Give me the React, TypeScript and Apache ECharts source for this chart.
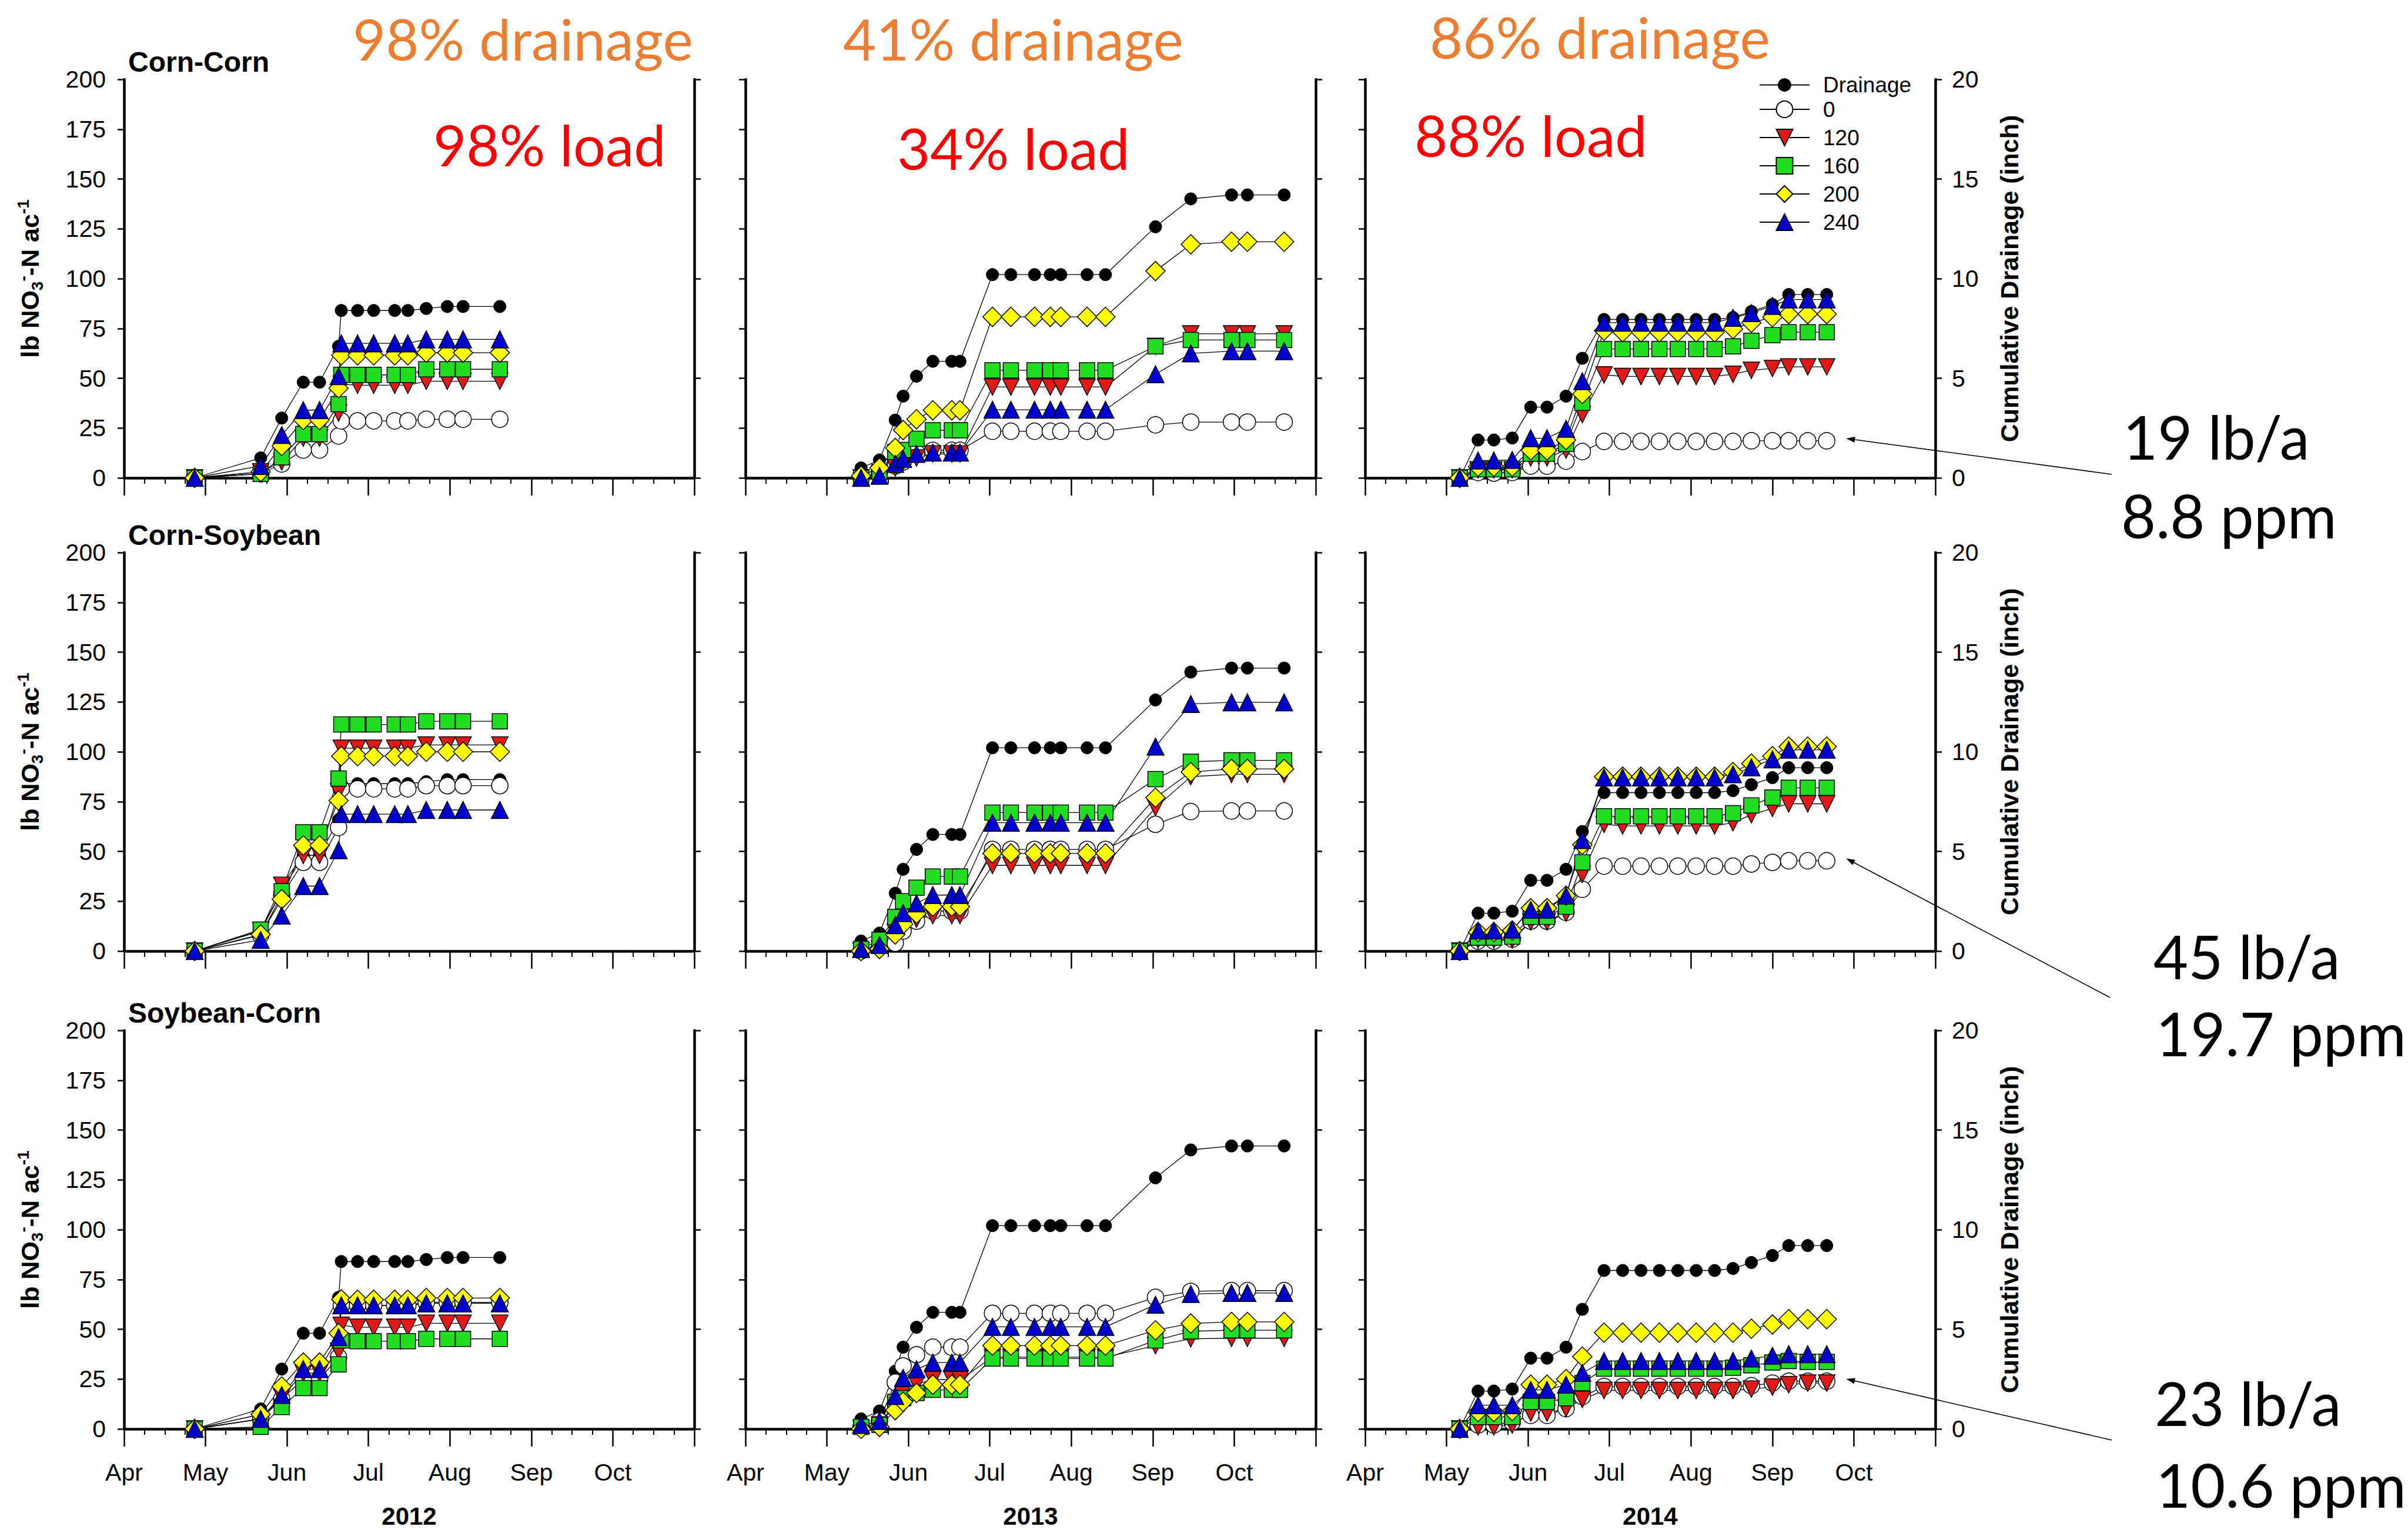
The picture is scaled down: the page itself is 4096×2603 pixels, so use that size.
import React, { useEffect, useRef } from 'react';
import * as echarts from 'echarts';

// ---------------- data ----------------
const monthLabels = ['Apr', 'May', 'Jun', 'Jul', 'Aug', 'Sep', 'Oct', ''];
const years = [2012, 2013, 2014];
const rotationNames = ['Corn-Corn', 'Corn-Soybean', 'Soybean-Corn'];
const drainageName = 'Drainage';
const rateNames = ['0', '120', '160', '200', '240'];

const dates2012 = ['04-27', '05-22', '05-30', '06-07', '06-13', '06-20', '06-21', '06-27', '07-03', '07-11', '07-16', '07-23', '07-31', '08-06', '08-20'];
const dates2013 = ['05-14', '05-21', '05-27', '05-30', '06-04', '06-10', '06-17', '06-20', '07-02', '07-09', '07-18', '07-24', '07-28', '08-07', '08-14', '09-02', '09-15', '09-30', '10-06', '10-20'];
const dates2014 = ['05-06', '05-13', '05-19', '05-26', '06-02', '06-08', '06-15', '06-21', '06-29', '07-06', '07-13', '07-20', '07-27', '08-03', '08-10', '08-17', '08-24', '09-01', '09-07', '09-14', '09-21'];

// cumulative drainage (inch), right axis
const drainage2012 = [0, 1.0, 3.0, 4.8, 4.8, 6.6, 8.4, 8.4, 8.4, 8.4, 8.4, 8.5, 8.6, 8.6, 8.6];
const drainage2013 = [0.5, 0.9, 2.9, 4.1, 5.1, 5.85, 5.85, 5.85, 10.2, 10.2, 10.2, 10.2, 10.2, 10.2, 10.2, 12.6, 14.0, 14.2, 14.2, 14.2];
const drainage2014 = [0, 1.9, 1.9, 2.0, 3.55, 3.55, 4.1, 6.0, 7.95, 7.95, 7.95, 7.95, 7.95, 7.95, 7.95, 8.05, 8.35, 8.7, 9.2, 9.2, 9.2];

// lb NO3-N/ac, rows in rateNames order: 0, 120, 160, 200, 240
const cornCorn2012 = [
  [0, 2, 7, 14, 14, 21, 28.6, 28.6, 28.6, 28.6, 28.6, 29.4, 29.4, 29.4, 29.4],
  [0, 3, 8, 20, 20, 32.6, 47, 46.5, 46.5, 46.5, 46.5, 48.5, 48.5, 48.5, 48.5],
  [0, 2, 10.3, 22, 22, 37, 51.7, 51.7, 51.7, 51.7, 51.7, 54.5, 54.5, 54.5, 54.5],
  [0, 3, 16, 29, 29, 45, 61.5, 61.5, 61.5, 61.5, 61.5, 62.8, 62.8, 62.8, 62.8],
  [0, 6, 21.5, 34, 34, 51, 67.5, 67.5, 67.5, 67.5, 67.5, 69.5, 69.5, 69.5, 69.5],
];
const cornSoy2012 = [
  [0, 8, 28, 44.5, 44.5, 62, 81.4, 81.4, 81.4, 81.4, 81.4, 83, 83, 83, 83],
  [0, 10.3, 33, 48, 48, 80, 101.8, 101.8, 101.8, 101.8, 101.8, 103.4, 103.4, 103.4, 103.4],
  [0, 10.8, 30, 59.6, 59.6, 86.6, 113.7, 113.7, 113.7, 113.7, 113.7, 115.3, 115.3, 115.3, 115.3],
  [0, 8.3, 26, 53, 53, 75.5, 97.8, 97.8, 97.8, 97.8, 97.8, 100, 100, 100, 100],
  [0, 5.6, 17.8, 32.6, 32.6, 50.6, 68.7, 68.7, 68.7, 68.7, 68.7, 70.8, 70.8, 70.8, 70.8],
];
const soyCorn2012 = [
  [0, 5, 15, 25, 25, 36, 62, 62, 62, 62, 62, 63.5, 63.5, 63.5, 63.5],
  [0, 5, 16, 28, 28, 39, 52, 51, 51, 51, 51, 53, 53, 53, 53],
  [0, 1, 11, 20.5, 20.5, 32.4, 44.4, 44, 44, 44, 44, 45.2, 45.2, 45.2, 45.2],
  [0, 7.3, 21.3, 33.3, 33.3, 48, 65, 64.8, 64.8, 64.8, 64.8, 65.7, 65.7, 65.7, 65.7],
  [0, 5, 17, 30, 30, 46, 62, 62, 62, 62, 62, 63, 63, 63, 63],
];
const cornCorn2013 = [
  [0, 3, 6, 8, 12.7, 13.8, 13.8, 13.8, 23.4, 23.4, 23.4, 23.4, 23.4, 23.4, 23.4, 26.6, 28, 28, 28, 28],
  [0, 2, 5, 8, 10, 12, 12, 12, 45.6, 45.6, 45.6, 45.6, 45.6, 45.6, 45.6, 66, 72.3, 72.3, 72.3, 72.3],
  [0, 3, 13, 14, 19.6, 23.9, 23.9, 23.9, 54, 54, 54, 54, 54, 54, 54, 66, 69.2, 69.2, 69.2, 69.2],
  [1, 5, 15, 24, 29.4, 33.9, 33.9, 33.9, 80.8, 80.8, 80.8, 80.8, 80.8, 80.8, 80.8, 103.8, 117.2, 118.5, 118.5, 118.5],
  [0, 1, 7, 9.5, 12, 12.7, 12.7, 12.7, 34.2, 34.2, 34.2, 34.2, 34.2, 34.2, 34.2, 52, 62.5, 63.6, 63.6, 63.6],
];
const cornSoy2013 = [
  [0, 2, 4, 10, 15, 20, 20, 20, 51, 51, 51, 51, 51, 51, 51, 63.6, 70, 70.3, 70.3, 70.3],
  [0, 1, 9.5, 12, 16, 17.8, 17.8, 17.8, 43, 43, 43, 43, 43, 43, 43, 72, 87.5, 88.7, 88.7, 88.7],
  [1, 5.6, 17, 25, 31.8, 37.4, 37.4, 37.4, 69.5, 69.5, 69.5, 69.5, 69.5, 69.5, 69.5, 86.3, 95, 95.7, 95.7, 95.7],
  [0, 1, 8.3, 13.5, 18.8, 22.3, 22.3, 22.3, 49, 49, 49, 49, 49, 49, 49, 77, 89.8, 91.4, 91.4, 91.4],
  [1, 3, 13, 19, 23.9, 28.1, 28.1, 28.1, 64.4, 64.4, 64.4, 64.4, 64.4, 64.4, 64.4, 102.6, 124, 124.8, 124.8, 124.8],
];
const soyCorn2013 = [
  [1, 4, 23.4, 31.6, 37.2, 41, 41, 41, 58, 58, 58, 58, 58, 58, 58, 66, 69, 69.4, 69.4, 69.4],
  [0, 2, 12, 17, 22.5, 24.7, 24.7, 24.7, 36, 36, 36, 36, 36, 36, 36, 41.8, 45.2, 45.5, 45.5, 45.5],
  [1, 2, 13.6, 15.4, 18, 19.6, 19.6, 19.6, 35.3, 35.3, 35.3, 35.3, 35.3, 35.3, 35.3, 44.4, 49, 49.5, 49.5, 49.5],
  [0, 1, 9.4, 13.6, 18, 22.2, 22.2, 22.2, 41.8, 41.8, 41.8, 41.8, 41.8, 41.8, 41.8, 49.5, 52.9, 53.7, 53.7, 53.7],
  [2, 4, 16.5, 25.6, 29.9, 33.3, 33.3, 33.3, 51.2, 51.2, 51.2, 51.2, 51.2, 51.2, 51.2, 62.3, 67.7, 68.2, 68.2, 68.2],
];
const cornCorn2014 = [
  [0, 2.7, 2.4, 2.7, 5.9, 5.9, 8.4, 13.2, 18.3, 18.3, 18.3, 18.3, 18.3, 18.3, 18.3, 18.3, 18.6, 18.6, 18.6, 18.6, 18.6],
  [0, 4, 4, 4, 10, 10, 14, 31.8, 51.7, 50.9, 50.9, 50.9, 50.9, 50.9, 50.9, 52, 54, 54.9, 55.7, 55.7, 55.7],
  [0, 4.3, 4.3, 4.3, 12.2, 12.2, 17, 37.7, 64.7, 64.7, 64.7, 64.7, 64.7, 64.7, 64.7, 66, 68.8, 71.6, 73.1, 73.1, 73.1],
  [0, 5.6, 5.6, 5.6, 13.8, 13.8, 19, 42.1, 73.9, 73.1, 73.1, 73.1, 73.1, 73.1, 73.1, 74.7, 77.9, 80.6, 82.2, 82.2, 82.2],
  [0, 8.7, 8.7, 9, 19.9, 19.9, 24.6, 48.5, 77.9, 77.9, 77.9, 77.9, 77.9, 77.9, 77.9, 80.3, 82.7, 86.3, 89.5, 89.5, 89.5],
];
const cornSoy2014 = [
  [0, 5, 5, 6, 15, 15, 19.4, 31, 42.6, 42.6, 42.6, 42.6, 42.6, 42.6, 42.6, 42.6, 43.7, 44.5, 45.3, 45.3, 45.3],
  [0, 5.6, 5.6, 5.6, 14.6, 14.6, 19, 38.5, 63.6, 62.8, 62.8, 62.8, 62.8, 62.8, 62.8, 64.4, 68.4, 71.6, 73.9, 73.9, 73.9],
  [0, 6.7, 6.7, 7.2, 17.2, 17.2, 22.3, 44.5, 67.6, 67.6, 67.6, 67.6, 67.6, 67.6, 67.6, 69.2, 73.1, 77.1, 81.9, 81.9, 81.9],
  [0, 9.5, 9.5, 10.3, 21.5, 21.5, 27.8, 53.3, 87.5, 87.5, 87.5, 87.5, 87.5, 87.5, 87.5, 89.8, 94.1, 97.8, 102.6, 102.6, 102.6],
  [0, 10.3, 10.3, 10.8, 20.7, 20.7, 27.8, 55.7, 87.1, 87.1, 87.1, 87.1, 87.1, 87.1, 87.1, 88.7, 92.2, 96.2, 101, 101, 101],
];
const soyCorn2014 = [
  [0, 2, 2, 3.4, 6.8, 6.8, 10.2, 16.2, 21.3, 21.3, 21.3, 21.3, 21.3, 21.3, 21.3, 21.3, 21.7, 23, 23.9, 23.9, 23.9],
  [0, 1, 1, 2, 8, 8, 10.2, 14.8, 19.3, 19.3, 19.3, 19.3, 19.3, 19.3, 19.3, 19.3, 20, 21, 22.2, 23, 23],
  [0, 6, 6, 6, 13.6, 13.6, 15.4, 23, 30.2, 30.2, 30.2, 30.2, 30.2, 30.2, 30.2, 30.7, 31.9, 33.3, 34.1, 33.6, 33.6],
  [0, 8.5, 8.5, 9, 22.2, 22.2, 25, 36.3, 48.3, 48.3, 48.3, 48.3, 48.3, 48.3, 48.3, 48.3, 50.3, 52.4, 55.1, 55.1, 55.1],
  [0, 11.9, 11.9, 11.9, 19.6, 19.6, 22.2, 28.1, 34.1, 34.1, 34.1, 34.1, 34.1, 34.1, 34.1, 34.1, 35.3, 36.7, 37.5, 37.5, 37.5],
];

const drainageShares = ['98% drainage', '41% drainage', '86% drainage'];
const loadShares = ['98% load', '34% load', '88% load'];
const annotationTexts = [
  ['19 lb/a', '8.8 ppm'],
  ['45 lb/a', '19.7 ppm'],
  ['23 lb/a', '10.6 ppm'],
];

// ---------------- layout / style ----------------
const dateSets = [dates2012, dates2013, dates2014];
const drainageSets = [drainage2012, drainage2013, drainage2014];
const panelData = [
  [cornCorn2012, cornCorn2013, cornCorn2014],
  [cornSoy2012, cornSoy2013, cornSoy2014],
  [soyCorn2012, soyCorn2013, soyCorn2014],
];

const ARIAL = '"Liberation Sans", Arial, Helvetica, sans-serif';
const CALIBRI = 'Lato, "Open Sans", sans-serif';
const gridLeft = [211, 1268, 2322];
const gridTop = [135, 940, 1753];
const gridW = 970;
const gridH = 678;
const AXIS_W = 4.5;

const rateStyles = [
  { symbol: 'circle', size: 28, fill: '#FFFFFF' },
  { symbol: 'path://M0,0L10,0L5,9Z', size: 28, fill: '#E01919' },
  { symbol: 'rect', size: 26, fill: '#22DD22' },
  { symbol: 'diamond', size: 33, fill: '#FFFF00' },
  { symbol: 'triangle', size: 29, fill: '#0000CC' },
];

function toMonth(year: number, md: string): number {
  const [m, d] = md.split('-').map(Number);
  const dim = new Date(Date.UTC(year, m, 0)).getUTCDate();
  return m - 4 + (d - 1) / dim;
}

function buildOption() {
  const grid: any[] = [];
  const xAxis: any[] = [];
  const yAxis: any[] = [];
  const series: any[] = [];
  for (let r = 0; r < 3; r++) {
    for (let c = 0; c < 3; c++) {
      const g = r * 3 + c;
      grid.push({ left: gridLeft[c], top: gridTop[r], width: gridW, height: gridH, containLabel: false });
      xAxis.push({
        type: 'value', gridIndex: g, min: 0, max: 7, interval: 1,
        axisLine: { show: true, onZero: false, lineStyle: { color: '#000', width: AXIS_W } },
        axisTick: { show: true, length: 30, lineStyle: { color: '#000', width: 2.5 } },
        minorTick: { show: true, splitNumber: 4, length: 10, lineStyle: { color: '#000', width: 2 } },
        splitLine: { show: false }, minorSplitLine: { show: false },
        axisLabel: {
          show: r === 2, margin: 53, fontSize: 41, fontFamily: ARIAL, color: '#000',
          formatter: (v: number) => monthLabels[Math.round(v)] ?? '',
        },
      });
      yAxis.push({
        type: 'value', gridIndex: g, position: 'left', min: 0, max: 200, interval: 25,
        axisLine: { show: true, lineStyle: { color: '#000', width: AXIS_W } },
        axisTick: { show: true, length: 11, lineStyle: { color: '#000', width: 2.5 } },
        splitLine: { show: false },
        axisLabel: { show: c === 0, margin: 31, fontSize: 41, fontFamily: ARIAL, color: '#000' },
      });
      yAxis.push({
        type: 'value', gridIndex: g, position: 'right', min: 0, max: 20, interval: 5,
        axisLine: { show: true, lineStyle: { color: '#000', width: AXIS_W } },
        axisTick: { show: true, length: 11, lineStyle: { color: '#000', width: 2.5 } },
        splitLine: { show: false },
        axisLabel: { show: c === 2, margin: 28, fontSize: 41, fontFamily: ARIAL, color: '#000' },
      });
      const year = years[c];
      const xs = dateSets[c].map((d) => toMonth(year, d));
      const common = {
        type: 'line', xAxisIndex: g, clip: false, silent: true,
        emphasis: { disabled: true }, animation: false,
      };
      series.push({
        ...common, name: drainageName, yAxisIndex: 2 * g + 1,
        data: xs.map((x, i) => [x, drainageSets[c][i]]),
        symbol: 'circle', symbolSize: 21,
        itemStyle: { color: '#000', borderColor: '#000', borderWidth: 1 },
        lineStyle: { color: '#000', width: 1.3 },
      });
      panelData[r][c].forEach((vals, k) => {
        const st = rateStyles[k];
        series.push({
          ...common, name: rateNames[k], yAxisIndex: 2 * g,
          data: xs.map((x, i) => [x, vals[i]]),
          symbol: st.symbol, symbolSize: st.size,
          itemStyle: { color: st.fill, borderColor: '#000', borderWidth: 1.5 },
          lineStyle: { color: '#000', width: 1.3 },
        });
      });
    }
  }
  const legendText = { fontSize: 37, fontFamily: ARIAL, color: '#000', padding: [0, 0, 0, 18] };
  const legend = [
    {
      data: [drainageName], orient: 'vertical', left: 2992, top: 126, padding: 0,
      itemWidth: 85, itemHeight: 26, selectedMode: false,
      textStyle: { ...legendText, lineHeight: 26 },
    },
    {
      data: rateNames, orient: 'vertical', left: 2992, top: 167.5, padding: 0,
      itemWidth: 85, itemHeight: 35, itemGap: 11, selectedMode: false,
      textStyle: { ...legendText, lineHeight: 35 },
    },
  ];
  return { animation: false, backgroundColor: '#fff', grid, xAxis, yAxis, series, legend };
}

function textEl(x: number, y: number, text: string, style: any, extra: any = {}) {
  return {
    type: 'text', x, y, silent: true, ...extra,
    style: { text, align: 'left', verticalAlign: 'middle', fill: '#000', ...style },
  };
}

function arrowEls(tail: number[], head: number[]) {
  const dx = head[0] - tail[0];
  const dy = head[1] - tail[1];
  const len = Math.hypot(dx, dy);
  const ux = dx / len, uy = dy / len;
  const L = 15, Wd = 5;
  const bx = head[0] - ux * L, by = head[1] - uy * L;
  return [
    { type: 'line', silent: true, shape: { x1: tail[0], y1: tail[1], x2: bx, y2: by }, style: { stroke: '#000', lineWidth: 1.6 } },
    {
      type: 'polygon', silent: true,
      shape: { points: [[head[0], head[1]], [bx - uy * Wd, by + ux * Wd], [bx + uy * Wd, by - ux * Wd]] },
      style: { fill: '#000' },
    },
  ];
}

function buildGraphics(chart: any) {
  const els: any[] = [];
  const boldArial = { fontFamily: ARIAL, fontWeight: 'bold' };
  // panel titles
  rotationNames.forEach((name, r) => {
    els.push(textEl(gridLeft[0] + 7, gridTop[r] - 30, name, { ...boldArial, fontSize: 48 }));
  });
  // year labels
  years.forEach((yr, c) => {
    els.push(textEl(gridLeft[c] + gridW / 2, 2579, String(yr), { ...boldArial, fontSize: 42, align: 'center' }));
  });
  // y axis titles
  for (let r = 0; r < 3; r++) {
    const cy = gridTop[r] + gridH / 2;
    els.push({
      type: 'text', x: 51, y: cy, rotation: Math.PI / 2, silent: true,
      style: {
        text: '{a|lb NO}{sub|3}{sup|-}{a|-N ac}{sup|-1}',
        align: 'center', verticalAlign: 'middle', fill: '#000',
        rich: {
          a: { fontSize: 43, fontWeight: 'bold', fontFamily: ARIAL, fill: '#000', lineHeight: 52 },
          sub: { fontSize: 28, fontWeight: 'bold', fontFamily: ARIAL, fill: '#000', lineHeight: 28, verticalAlign: 'bottom' },
          sup: { fontSize: 28, fontWeight: 'bold', fontFamily: ARIAL, fill: '#000', lineHeight: 28, verticalAlign: 'top' },
        },
      },
    });
    els.push({
      type: 'text', x: 3418, y: cy, rotation: Math.PI / 2, silent: true,
      style: {
        text: 'Cumulative Drainage (inch)', align: 'center', verticalAlign: 'middle',
        fill: '#000', fontSize: 43, fontWeight: 'bold', fontFamily: ARIAL,
      },
    });
  }
  // percent annotations
  const dPos = [[600, 65], [1434, 65], [2432, 62]];
  const lPos = [[737, 245], [1526, 251], [2406, 229]];
  drainageShares.forEach((t, i) => els.push(textEl(dPos[i][0], dPos[i][1], t, { fontFamily: CALIBRI, fontSize: 97, fill: '#ED7D31' })));
  loadShares.forEach((t, i) => els.push(textEl(lPos[i][0], lPos[i][1], t, { fontFamily: CALIBRI, fontSize: 97, fill: '#FF0000' })));
  // right-hand annotations with arrows
  const aPos = [
    [[3611, 742], [3608, 876]],
    [[3663, 1626], [3667, 1757]],
    [[3665, 2386], [3667, 2525]],
  ];
  const tails = [[3592, 807], [3589, 1697], [3592, 2450]];
  annotationTexts.forEach((lines, r) => {
    lines.forEach((t, j) => els.push(textEl(aPos[r][j][0], aPos[r][j][1], t, { fontFamily: CALIBRI, fontSize: 102 })));
    const g = r * 3 + 2;
    const vals = panelData[r][2][0];
    const n = vals.length - 1;
    const p = chart.convertToPixel({ xAxisIndex: g, yAxisIndex: 2 * g }, [toMonth(2014, dates2014[n]), vals[n]]);
    els.push(...arrowEls(tails[r], [p[0] + 33, p[1] - 4]));
  });
  return els;
}

export default function App() {
  const ref = useRef<HTMLDivElement>(null);
  useEffect(() => {
    if (!ref.current) return;
    const chart = echarts.init(ref.current, undefined, { renderer: 'svg' });
    chart.setOption(buildOption() as any);
    chart.setOption({ graphic: buildGraphics(chart) } as any);
    return () => chart.dispose();
  }, []);
  return (
    <div
      ref={ref}
      style={{ position: 'fixed', left: 0, top: 0, width: 4096, height: 2603, background: '#fff' }}
    />
  );
}
